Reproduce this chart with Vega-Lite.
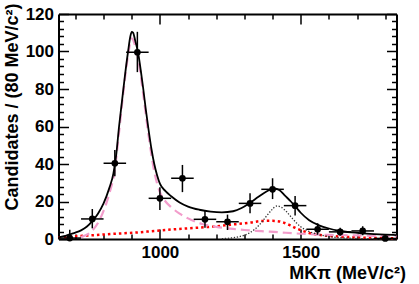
{
  "$schema": "https://vega.github.io/schema/vega-lite/v6.json",
  "width": 338,
  "height": 225,
  "autosize": {"type": "none"},
  "padding": {"left": 58.5, "top": 14, "right": 22.5, "bottom": 45},
  "config": {
    "view": {"stroke": null},
    "font": "Liberation Sans",
    "axis": {
      "grid": false,
      "domainColor": "black",
      "domainWidth": 2,
      "tickColor": "black",
      "tickWidth": 1.5,
      "labelColor": "black",
      "labelFont": "Liberation Sans",
      "labelFontSize": 17,
      "labelFontWeight": "bold",
      "labelOverlap": false,
      "labelFlush": false,
      "titleColor": "black",
      "titleFont": "Liberation Sans",
      "titleFontWeight": "bold"
    }
  },
  "datasets": {
    "curves": [
      {"comp": "nr", "m": 640, "v": 0.9}, {"comp": "nr", "m": 700, "v": 1.5}, {"comp": "nr", "m": 770, "v": 2.1},
      {"comp": "nr", "m": 840, "v": 2.8}, {"comp": "nr", "m": 912, "v": 3.4}, {"comp": "nr", "m": 980, "v": 4.3},
      {"comp": "nr", "m": 1053, "v": 5.2}, {"comp": "nr", "m": 1120, "v": 5.9}, {"comp": "nr", "m": 1187, "v": 6.6},
      {"comp": "nr", "m": 1250, "v": 7.6}, {"comp": "nr", "m": 1318, "v": 8.7}, {"comp": "nr", "m": 1364, "v": 9.6},
      {"comp": "nr", "m": 1400, "v": 9.7}, {"comp": "nr", "m": 1430, "v": 9.2}, {"comp": "nr", "m": 1459, "v": 7.5},
      {"comp": "nr", "m": 1487, "v": 5.5}, {"comp": "nr", "m": 1510, "v": 4.2}, {"comp": "nr", "m": 1530, "v": 3.2},
      {"comp": "nr", "m": 1577, "v": 2.0}, {"comp": "nr", "m": 1650, "v": 1.2}, {"comp": "nr", "m": 1750, "v": 0.6},
      {"comp": "nr", "m": 1840, "v": 0.4},

      {"comp": "k2", "m": 1220, "v": 0.2}, {"comp": "k2", "m": 1250, "v": 0.5}, {"comp": "k2", "m": 1280, "v": 1.2},
      {"comp": "k2", "m": 1320, "v": 3.4}, {"comp": "k2", "m": 1353, "v": 7.5}, {"comp": "k2", "m": 1380, "v": 12.5},
      {"comp": "k2", "m": 1400, "v": 16.0}, {"comp": "k2", "m": 1415, "v": 17.6}, {"comp": "k2", "m": 1430, "v": 17.0},
      {"comp": "k2", "m": 1450, "v": 14.5}, {"comp": "k2", "m": 1470, "v": 11.0}, {"comp": "k2", "m": 1500, "v": 6.5},
      {"comp": "k2", "m": 1530, "v": 4.0}, {"comp": "k2", "m": 1560, "v": 2.5}, {"comp": "k2", "m": 1600, "v": 1.3},
      {"comp": "k2", "m": 1650, "v": 0.6}, {"comp": "k2", "m": 1700, "v": 0.3}, {"comp": "k2", "m": 1800, "v": 0.1},

      {"comp": "ks", "m": 720, "v": 1.0}, {"comp": "ks", "m": 760, "v": 4.5}, {"comp": "ks", "m": 780, "v": 8.5},
      {"comp": "ks", "m": 800, "v": 15}, {"comp": "ks", "m": 820, "v": 24}, {"comp": "ks", "m": 840, "v": 37},
      {"comp": "ks", "m": 855, "v": 57}, {"comp": "ks", "m": 870, "v": 78}, {"comp": "ks", "m": 887, "v": 98},
      {"comp": "ks", "m": 900, "v": 107}, {"comp": "ks", "m": 912, "v": 103}, {"comp": "ks", "m": 923, "v": 96},
      {"comp": "ks", "m": 941, "v": 77}, {"comp": "ks", "m": 960, "v": 55}, {"comp": "ks", "m": 980, "v": 36},
      {"comp": "ks", "m": 1000, "v": 25}, {"comp": "ks", "m": 1020, "v": 20}, {"comp": "ks", "m": 1040, "v": 17},
      {"comp": "ks", "m": 1070, "v": 13.5}, {"comp": "ks", "m": 1100, "v": 11}, {"comp": "ks", "m": 1150, "v": 8},
      {"comp": "ks", "m": 1200, "v": 6.5}, {"comp": "ks", "m": 1250, "v": 5.5}, {"comp": "ks", "m": 1300, "v": 4.8},
      {"comp": "ks", "m": 1360, "v": 4.2}, {"comp": "ks", "m": 1420, "v": 3.6}, {"comp": "ks", "m": 1500, "v": 2.8},
      {"comp": "ks", "m": 1600, "v": 2.2}, {"comp": "ks", "m": 1700, "v": 1.9}, {"comp": "ks", "m": 1840, "v": 1.5},

      {"comp": "tot", "m": 640, "v": 0.9}, {"comp": "tot", "m": 660, "v": 1.5}, {"comp": "tot", "m": 680, "v": 2.5},
      {"comp": "tot", "m": 700, "v": 3.4}, {"comp": "tot", "m": 720, "v": 4.6}, {"comp": "tot", "m": 740, "v": 6.5},
      {"comp": "tot", "m": 760, "v": 9.5}, {"comp": "tot", "m": 780, "v": 13.5}, {"comp": "tot", "m": 800, "v": 19},
      {"comp": "tot", "m": 820, "v": 27}, {"comp": "tot", "m": 835, "v": 35}, {"comp": "tot", "m": 845, "v": 45},
      {"comp": "tot", "m": 855, "v": 60}, {"comp": "tot", "m": 865, "v": 73}, {"comp": "tot", "m": 875, "v": 86},
      {"comp": "tot", "m": 887, "v": 100}, {"comp": "tot", "m": 895, "v": 108}, {"comp": "tot", "m": 900, "v": 110.5},
      {"comp": "tot", "m": 905, "v": 110}, {"comp": "tot", "m": 912, "v": 106}, {"comp": "tot", "m": 923, "v": 99},
      {"comp": "tot", "m": 932, "v": 90}, {"comp": "tot", "m": 941, "v": 80}, {"comp": "tot", "m": 950, "v": 69},
      {"comp": "tot", "m": 960, "v": 58}, {"comp": "tot", "m": 970, "v": 48}, {"comp": "tot", "m": 980, "v": 40},
      {"comp": "tot", "m": 990, "v": 34}, {"comp": "tot", "m": 1000, "v": 29.5}, {"comp": "tot", "m": 1020, "v": 25.5},
      {"comp": "tot", "m": 1040, "v": 22.8}, {"comp": "tot", "m": 1070, "v": 19.5}, {"comp": "tot", "m": 1100, "v": 17.3},
      {"comp": "tot", "m": 1140, "v": 15.6}, {"comp": "tot", "m": 1180, "v": 14.6}, {"comp": "tot", "m": 1220, "v": 14.2},
      {"comp": "tot", "m": 1260, "v": 14.8}, {"comp": "tot", "m": 1290, "v": 16.5}, {"comp": "tot", "m": 1320, "v": 19.4},
      {"comp": "tot", "m": 1350, "v": 22.5}, {"comp": "tot", "m": 1380, "v": 25.5}, {"comp": "tot", "m": 1405, "v": 27},
      {"comp": "tot", "m": 1425, "v": 26}, {"comp": "tot", "m": 1445, "v": 23}, {"comp": "tot", "m": 1465, "v": 20},
      {"comp": "tot", "m": 1480, "v": 17.5}, {"comp": "tot", "m": 1500, "v": 14}, {"comp": "tot", "m": 1530, "v": 10},
      {"comp": "tot", "m": 1565, "v": 7.3}, {"comp": "tot", "m": 1600, "v": 5.6}, {"comp": "tot", "m": 1635, "v": 4.4},
      {"comp": "tot", "m": 1680, "v": 3.5}, {"comp": "tot", "m": 1720, "v": 3.0}, {"comp": "tot", "m": 1760, "v": 2.6},
      {"comp": "tot", "m": 1800, "v": 2.3}, {"comp": "tot", "m": 1840, "v": 2.1}
    ],
    "pts": [
      {"m": 680, "n": 0.5, "lo": 0, "hi": 5, "xlo": 640, "xhi": 720},
      {"m": 760, "n": 10.7, "lo": 5.7, "hi": 16, "xlo": 720, "xhi": 800},
      {"m": 840, "n": 40.4, "lo": 33.5, "hi": 47.5, "xlo": 800, "xhi": 880},
      {"m": 920, "n": 99.6, "lo": 89, "hi": 110.5, "xlo": 880, "xhi": 960},
      {"m": 1000, "n": 21.7, "lo": 15.5, "hi": 27.6, "xlo": 960, "xhi": 1040},
      {"m": 1080, "n": 32.4, "lo": 25, "hi": 39.5, "xlo": 1040, "xhi": 1120},
      {"m": 1160, "n": 10.5, "lo": 6, "hi": 15, "xlo": 1120, "xhi": 1200},
      {"m": 1240, "n": 9.2, "lo": 4.8, "hi": 13, "xlo": 1200, "xhi": 1280},
      {"m": 1320, "n": 19, "lo": 13.7, "hi": 24.4, "xlo": 1280, "xhi": 1360},
      {"m": 1400, "n": 26.5, "lo": 21.3, "hi": 32.4, "xlo": 1360, "xhi": 1440},
      {"m": 1480, "n": 17.8, "lo": 12.5, "hi": 23, "xlo": 1440, "xhi": 1520},
      {"m": 1560, "n": 5.2, "lo": 2.5, "hi": 8.4, "xlo": 1520, "xhi": 1600},
      {"m": 1640, "n": 3.8, "lo": 1.8, "hi": 6, "xlo": 1600, "xhi": 1680},
      {"m": 1720, "n": 4.3, "lo": 2, "hi": 6.8, "xlo": 1680, "xhi": 1760},
      {"m": 1800, "n": 0.3, "lo": 0, "hi": 1.5, "xlo": 1760, "xhi": 1840}
    ]
  },
  "layer": [
    {
      "data": {"name": "curves"},
      "transform": [{"filter": "datum.comp == 'nr'"}],
      "mark": {"type": "line", "color": "#ff0000", "strokeWidth": 2.5, "strokeDash": [2.5, 3], "interpolate": "monotone"},
      "encoding": {
        "x": {"field": "m", "type": "quantitative", "scale": {"domain": [640, 1840], "nice": false, "zero": false},
          "axis": {"orient": "bottom", "values": [700, 800, 900, 1000, 1100, 1200, 1300, 1400, 1500, 1600, 1700, 1800],
            "format": "d", "labelExpr": "datum.value == 1000 || datum.value == 1500 ? datum.label : ''",
            "tickSize": {"condition": {"test": "datum.value == 1000 || datum.value == 1500", "value": -10}, "value": -5},
            "labelPadding": 15, "title": "MKπ (MeV/c²)", "titleFontSize": 18, "titleAlign": "right",
            "titleBaseline": "middle", "titleX": 347, "titleY": 34}},
        "y": {"field": "v", "type": "quantitative", "scale": {"domain": [0, 120], "nice": false, "zero": false},
          "axis": {"orient": "left", "values": [0, 4, 8, 12, 16, 20, 24, 28, 32, 36, 40, 44, 48, 52, 56, 60, 64, 68, 72, 76, 80, 84, 88, 92, 96, 100, 104, 108, 112, 116, 120],
            "labelExpr": "datum.value % 20 == 0 ? datum.label : ''",
            "tickSize": {"condition": {"test": "datum.value % 20 == 0", "value": -10}, "value": -5},
            "labelPadding": 15, "title": "Candidates / (80 MeV/c²)", "titleFontSize": 18, "titleAngle": -90,
            "titleAlign": "right", "titleBaseline": "middle", "titleX": -46, "titleY": -11}}
      }
    },
    {
      "data": {"name": "curves"},
      "transform": [{"filter": "datum.comp == 'ks'"}],
      "mark": {"type": "line", "color": "#f29ccb", "strokeWidth": 2.2, "strokeDash": [9, 5], "interpolate": "monotone"},
      "encoding": {
        "x": {"field": "m", "type": "quantitative", "scale": {"domain": [640, 1840], "nice": false, "zero": false},
          "axis": {"orient": "top", "values": [700, 800, 900, 1000, 1100, 1200, 1300, 1400, 1500, 1600, 1700, 1800],
            "labels": false, "title": null,
            "tickSize": {"condition": {"test": "datum.value == 1000 || datum.value == 1500", "value": -10}, "value": -5}}},
        "y": {"field": "v", "type": "quantitative", "scale": {"domain": [0, 120], "nice": false, "zero": false},
          "axis": {"orient": "right", "values": [0, 4, 8, 12, 16, 20, 24, 28, 32, 36, 40, 44, 48, 52, 56, 60, 64, 68, 72, 76, 80, 84, 88, 92, 96, 100, 104, 108, 112, 116, 120],
            "labels": false, "title": null,
            "tickSize": {"condition": {"test": "datum.value % 20 == 0", "value": -10}, "value": -5}}}
      }
    },
    {
      "data": {"name": "curves"},
      "transform": [{"filter": "datum.comp == 'k2'"}],
      "mark": {"type": "line", "color": "#333333", "strokeWidth": 1.3, "strokeDash": [1.3, 1.7], "interpolate": "monotone"},
      "encoding": {
        "x": {"field": "m", "type": "quantitative", "scale": {"domain": [640, 1840], "nice": false, "zero": false}, "axis": null},
        "y": {"field": "v", "type": "quantitative", "scale": {"domain": [0, 120], "nice": false, "zero": false}, "axis": null}
      }
    },
    {
      "data": {"name": "curves"},
      "transform": [{"filter": "datum.comp == 'tot'"}],
      "mark": {"type": "line", "color": "black", "strokeWidth": 1.8, "interpolate": "monotone"},
      "encoding": {
        "x": {"field": "m", "type": "quantitative", "scale": {"domain": [640, 1840], "nice": false, "zero": false}, "axis": null},
        "y": {"field": "v", "type": "quantitative", "scale": {"domain": [0, 120], "nice": false, "zero": false}, "axis": null}
      }
    },
    {
      "data": {"name": "pts"},
      "mark": {"type": "rule", "color": "black", "strokeWidth": 1.5},
      "encoding": {
        "x": {"field": "m", "type": "quantitative", "axis": null},
        "y": {"field": "lo", "type": "quantitative", "axis": null},
        "y2": {"field": "hi"}
      }
    },
    {
      "data": {"name": "pts"},
      "mark": {"type": "rule", "color": "black", "strokeWidth": 1.5},
      "encoding": {
        "x": {"field": "xlo", "type": "quantitative", "axis": null},
        "x2": {"field": "xhi"},
        "y": {"field": "n", "type": "quantitative", "axis": null}
      }
    },
    {
      "data": {"name": "pts"},
      "mark": {"type": "point", "filled": true, "shape": "circle", "size": 45, "color": "black", "opacity": 1},
      "encoding": {
        "x": {"field": "m", "type": "quantitative", "axis": null},
        "y": {"field": "n", "type": "quantitative", "axis": null}
      }
    },
    {
      "mark": {"type": "text", "text": "(b)", "font": "Liberation Sans", "fontSize": 17, "fontWeight": "bold", "align": "left", "baseline": "middle", "color": "black"},
      "encoding": {
        "x": {"datum": 703, "type": "quantitative", "axis": null},
        "y": {"datum": 108.8, "type": "quantitative", "axis": null}
      }
    },
    {
      "mark": {"type": "text", "text": "LHCb", "font": "Liberation Sans", "fontSize": 21, "fontWeight": "bold", "align": "right", "baseline": "middle", "color": "black"},
      "encoding": {
        "x": {"datum": 1798, "type": "quantitative", "axis": null},
        "y": {"datum": 107.6, "type": "quantitative", "axis": null}
      }
    }
  ],
  "resolve": {"axis": {"x": "independent", "y": "independent"}}
}
